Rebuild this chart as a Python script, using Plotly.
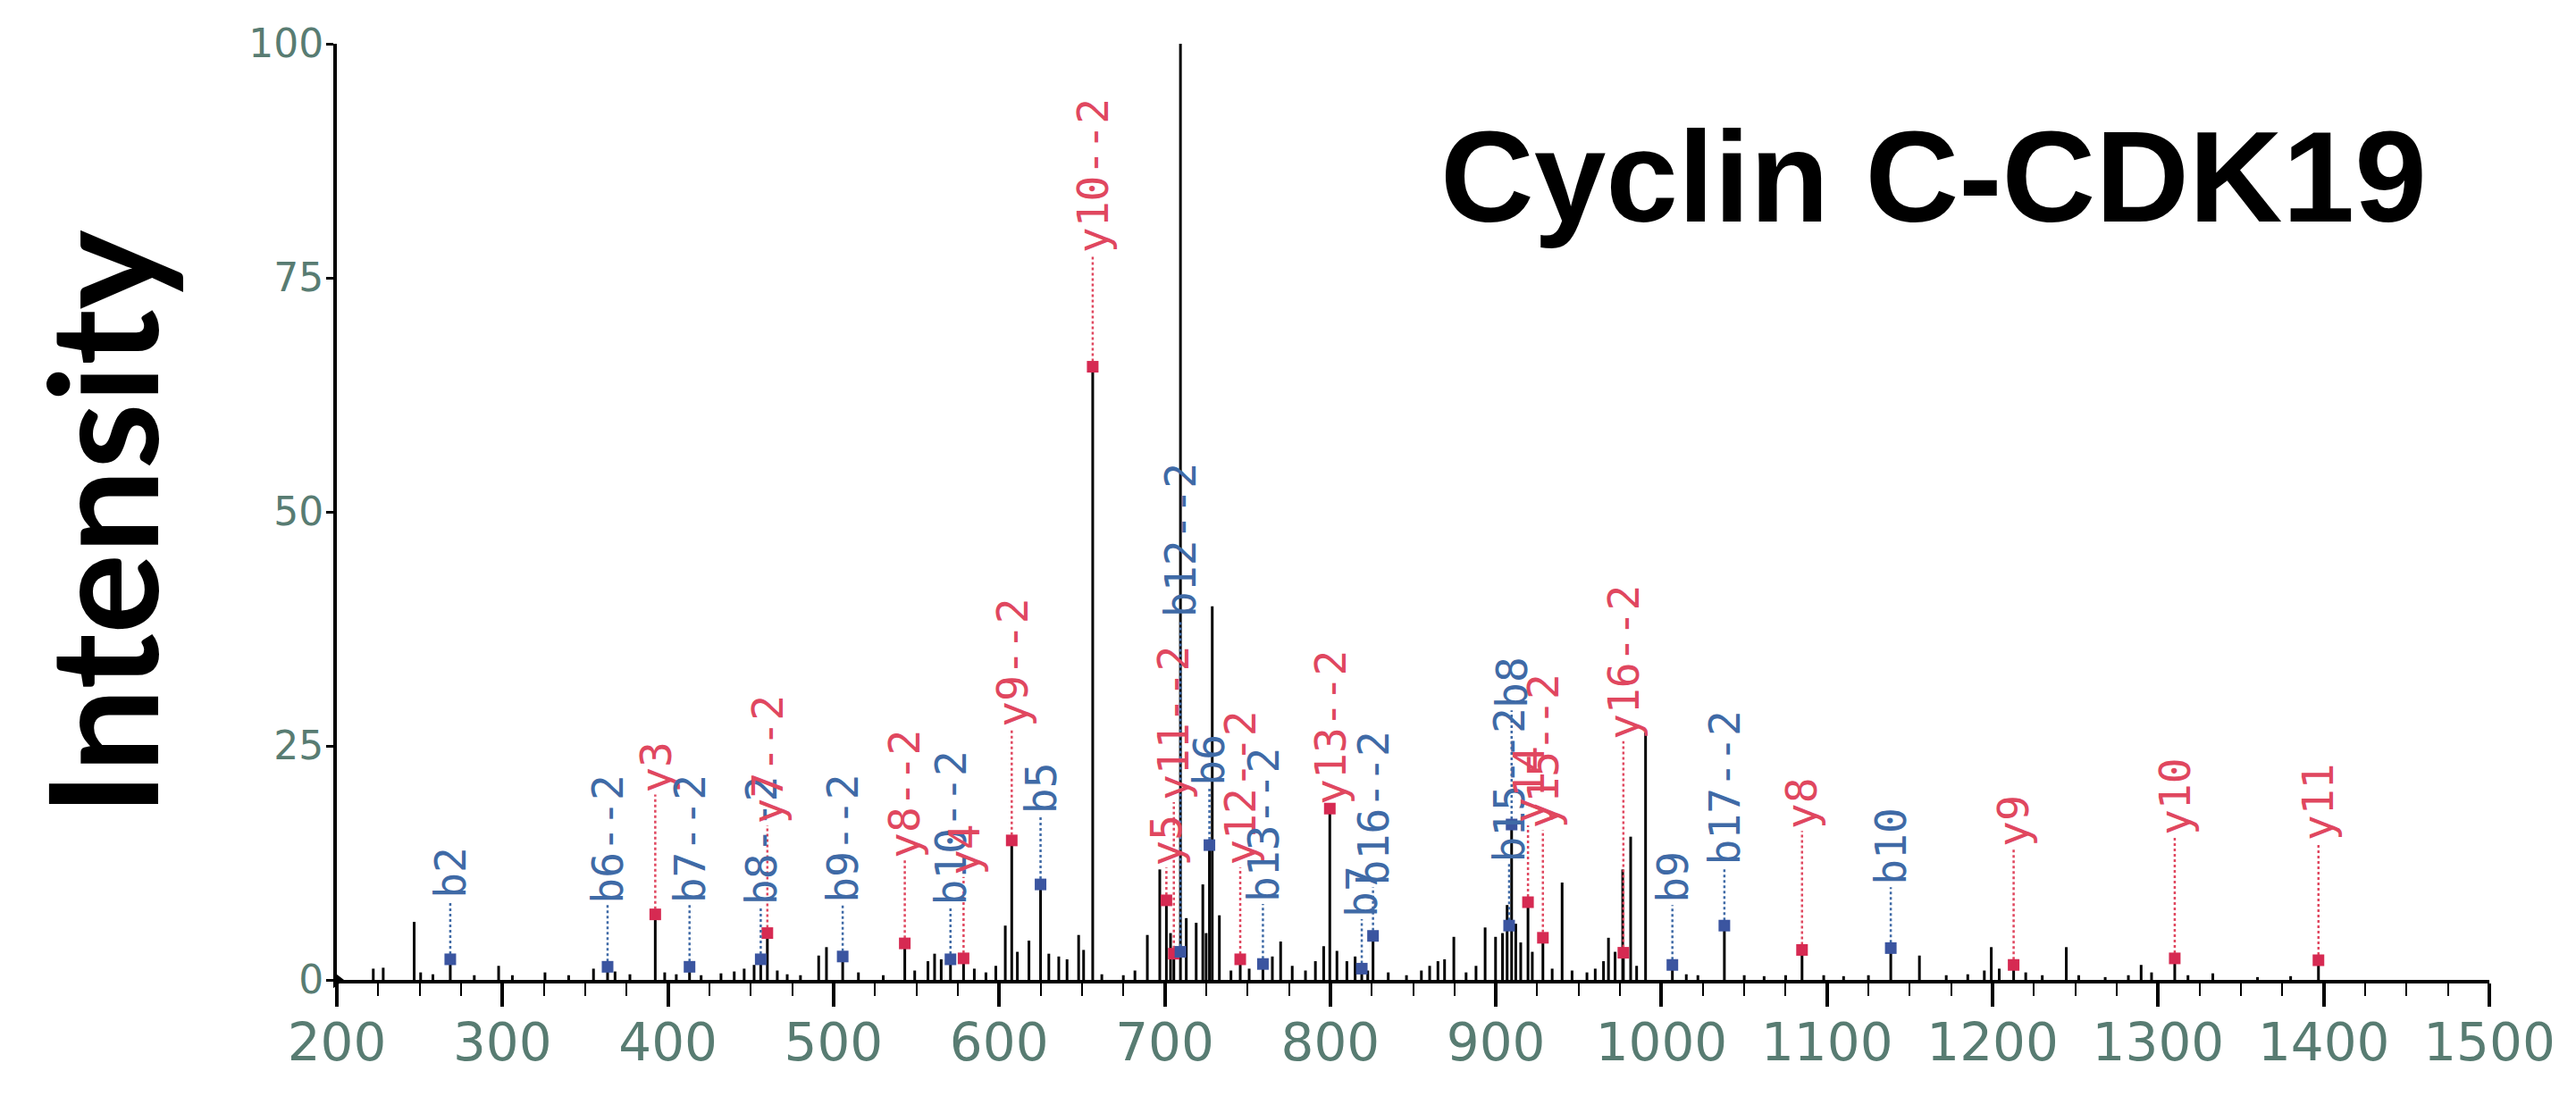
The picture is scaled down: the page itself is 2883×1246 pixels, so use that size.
import plotly.graph_objects as go

# ---------------- data ----------------
peak_mz = [222, 228, 246.7, 250.6, 258, 268.5, 283, 297.7, 306, 325.7,
           340, 355, 363.5, 368, 377, 392.3, 398, 405, 413, 420,
           432, 440, 446, 452, 456, 460, 466, 472, 480, 491,
           495.7, 505.5, 515, 530, 543, 549, 557, 561, 565, 570.6,
           578.5, 585, 592, 598, 603.7, 607.6, 611, 618, 625, 630,
           636, 641, 648, 651, 656.5, 662, 675, 682, 689.5, 697,
           701, 703.5, 705.5, 709.5, 713, 719, 723, 725, 727, 728.7,
           733, 740, 745.6, 751, 759.3, 765, 770, 777, 785, 791,
           796, 799.7, 804, 810, 815, 819, 822.6, 825.8, 835, 846,
           855, 860, 865, 869, 874.6, 882, 888, 893.5, 899.8, 904,
           906.8, 909.5, 912, 915, 919.4, 922, 928.4, 934, 940, 946,
           955, 960, 965, 968, 972, 976.6, 977, 981.4, 985, 990.4,
           1006.6, 1015, 1022, 1038, 1050, 1062, 1075, 1084.9, 1098, 1110,
           1125, 1138.5, 1155.8, 1172, 1185, 1195, 1199.2, 1204, 1212.7, 1220,
           1230, 1244.5, 1252, 1268, 1282, 1289.7, 1296, 1310, 1318, 1333,
           1360, 1380, 1396.8]
peak_int = [1.2, 1.3, 6.2, 0.8, 0.6, 2.2, 0.5, 1.5, 0.5, 0.8,
            0.5, 1.2, 1.4, 0.9, 0.6, 7.0, 0.8, 0.6, 1.4, 0.5,
            0.7, 0.9, 1.2, 1.6, 2.2, 5.0, 1.0, 0.6, 0.5, 2.6,
            3.5, 2.5, 0.8, 0.5, 3.9, 1.0, 2.0, 2.8, 2.2, 2.2,
            2.3, 1.2, 0.8, 1.5, 5.8, 14.9, 3.0, 4.2, 10.2, 2.8,
            2.5, 2.2, 4.8, 3.2, 65.5, 0.6, 0.5, 1.0, 4.8, 11.8,
            8.5, 5.0, 2.8, 100, 6.6, 6.1, 10.2, 5.0, 14.4, 39.9,
            6.9, 1.0, 2.2, 1.2, 1.7, 2.5, 4.1, 1.5, 1.0, 2.0,
            3.6, 18.3, 3.1, 2.0, 2.5, 1.2, 1.0, 4.7, 0.8, 0.5,
            1.0, 1.5, 2.0, 2.2, 4.6, 0.8, 1.5, 5.6, 4.6, 5.0,
            8.0, 16.6, 6.0, 4.0, 8.3, 3.0, 4.5, 1.2, 10.4, 1.0,
            0.8, 1.2, 2.0, 4.5, 3.0, 11.8, 2.9, 15.3, 1.5, 26.4,
            1.6, 0.6, 0.5, 5.8, 0.5, 0.4, 0.5, 3.2, 0.5, 0.4,
            0.5, 3.4, 2.6, 0.5, 0.6, 1.0, 3.5, 1.2, 1.6, 0.8,
            0.5, 3.5, 0.5, 0.3, 0.5, 1.6, 0.8, 2.3, 0.5, 0.7,
            0.3, 0.4, 2.1]

ion_label = ["b2", "b6--2", "y3", "b7--2", "b8--2", "y7--2", "b9--2", "y8--2",
             "b10--2", "y4", "y9--2", "b5", "y10--2", "y5", "y11--2", "b12--2",
             "b6", "y12--2", "b13--2", "y13--2", "b7", "b16--2", "b15--2", "b8",
             "y14", "y15--2", "y16--2", "b9", "b17--2", "y8", "b10", "y9",
             "y10", "y11"]
ion_mz = [268.5, 363.5, 392.3, 413, 456, 460, 505.5, 543,
          570.6, 578.5, 607.6, 625, 656.5, 701, 705.5, 709.5,
          727, 745.6, 759.3, 799.7, 819, 825.8, 908, 909.5,
          919.4, 928.4, 977, 1006.6, 1038, 1084.9, 1138.5, 1212.7,
          1310, 1396.8]
ion_int = [2.2, 1.4, 7.0, 1.4, 2.2, 5.0, 2.5, 3.9,
           2.2, 2.3, 14.9, 10.2, 65.5, 8.5, 2.8, 3.0,
           14.4, 2.2, 1.7, 18.3, 1.2, 4.7, 5.8, 16.6,
           8.3, 4.5, 2.9, 1.6, 5.8, 3.2, 3.4, 1.6,
           2.3, 2.1]
# height (intensity units) where each label text begins
label_base = [8.5, 8.0, 19.8, 8.0, 7.8, 16.5, 8.0, 12.8,
              7.8, 11.0, 26.8, 17.5, 77.5, 12.0, 19.0, 38.5,
              20.5, 12.0, 8.1, 18.5, 6.5, 9.9, 12.4, 28.8,
              16.5, 16.0, 25.5, 8.0, 12.1, 15.9, 9.9, 14.0,
              15.3, 14.7]

precursor_mz = 741
x_ticks = [200, 300, 400, 500, 600, 700, 800, 900, 1000, 1100, 1200, 1300, 1400, 1500]
y_ticks = [0, 25, 50, 75, 100]

# ---------------- styles ----------------
RED_TXT, BLUE_TXT = "#e0475f", "#3f6aa6"
RED_MK, BLUE_MK = "#d62a52", "#3b55a0"
TICK_COL = "#587c72"

fig = go.Figure()

# peak stems
sx, sy = [], []
for m, v in zip(peak_mz, peak_int):
    sx += [m, m, None]
    sy += [0, v, None]
fig.add_trace(go.Scatter(x=sx, y=sy, mode="lines",
                         line=dict(color="black", width=3),
                         hoverinfo="skip", showlegend=False))

# dotted connectors + markers
for kind, lcol, mcol in (("y", RED_TXT, RED_MK), ("b", BLUE_TXT, BLUE_MK)):
    cx, cy, mx, my = [], [], [], []
    for lab, m, v, base in zip(ion_label, ion_mz, ion_int, label_base):
        if not lab.startswith(kind):
            continue
        cx += [m, m, None]
        cy += [v, base, None]
        mx.append(m)
        my.append(v)
    fig.add_trace(go.Scatter(x=cx, y=cy, mode="lines",
                             line=dict(color=lcol, width=2.5, dash="dot"),
                             hoverinfo="skip", showlegend=False))
    fig.add_trace(go.Scatter(x=mx, y=my, mode="markers",
                             marker=dict(symbol="square", size=13, color=mcol),
                             showlegend=False))

# precursor marker below the axis
fig.add_trace(go.Scatter(x=[precursor_mz], y=[-2.2], mode="markers",
                         marker=dict(symbol="triangle-up", size=30, color="#17935a"),
                         cliponaxis=False, showlegend=False))
# origin marker
fig.add_trace(go.Scatter(x=[x_ticks[0]], y=[0], mode="markers",
                         marker=dict(symbol="triangle-right", size=16, color="black"),
                         cliponaxis=False, showlegend=False))

annotations = []
for lab, m, base in zip(ion_label, ion_mz, label_base):
    annotations.append(dict(
        x=m, y=base, xref="x", yref="y", text=lab, showarrow=False,
        textangle=-90, xanchor="center", yanchor="bottom",
        font=dict(family="DejaVu Sans Mono", size=48,
                  color=RED_TXT if lab.startswith("y") else BLUE_TXT)))

annotations.append(dict(
    x=0.742, y=0.858, xref="paper", yref="paper", text="<b>Cyclin C-CDK19</b>",
    showarrow=False, xanchor="center", yanchor="middle",
    font=dict(family="Liberation Sans", size=145, color="black")))
annotations.append(dict(
    x=-0.110, y=0.488, xref="paper", yref="paper", text="<b>Intensity</b>",
    showarrow=False, textangle=-90, xanchor="center", yanchor="middle",
    font=dict(family="Lato", size=168, color="black")))

fig.update_layout(
    width=2883, height=1246, autosize=False,
    margin=dict(l=377, r=97, t=49, b=149),
    paper_bgcolor="white", plot_bgcolor="white",
    annotations=annotations,
    xaxis=dict(range=[x_ticks[0], x_ticks[-1]], tickvals=x_ticks,
               showline=True, linecolor="black", linewidth=4,
               ticks="outside", ticklen=26, tickwidth=4, tickcolor="black",
               ticklabelstandoff=-10,
               minor=dict(dtick=25, ticks="outside", ticklen=14, tickwidth=2, tickcolor="black"),
               showgrid=False, zeroline=False,
               tickfont=dict(family="DejaVu Sans", size=58, color=TICK_COL)),
    yaxis=dict(range=[0, 100], tickvals=y_ticks,
               showline=True, linecolor="black", linewidth=4,
               ticks="outside", ticklen=8, tickwidth=3, tickcolor="black",
               ticklabelstandoff=-6,
               showgrid=False, zeroline=False,
               tickfont=dict(family="DejaVu Sans", size=44, color=TICK_COL)),
)

fig.write_html("out.html", config={"displayModeBar": False},
               post_script="document.body.style.margin='0';document.body.style.overflow='hidden';")
